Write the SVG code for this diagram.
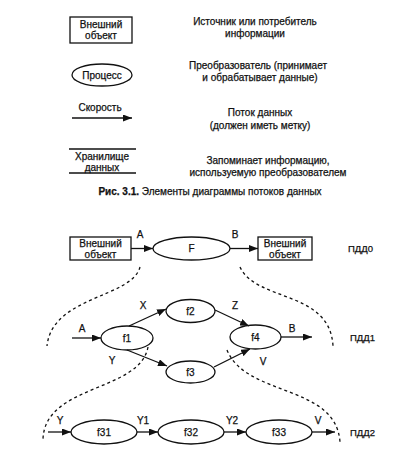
<svg xmlns="http://www.w3.org/2000/svg" width="416" height="452" viewBox="0 0 416 452">
<style>
text{font-family:"Liberation Sans",Arial,sans-serif;font-size:10px;fill:#111;stroke:#111;stroke-width:0.25;text-anchor:middle}
.lev{font-size:9.5px;text-anchor:start}
.shape{fill:#fff;stroke:#111;stroke-width:1.3}
.flow{fill:none;stroke:#111;stroke-width:1.3;marker-end:url(#ah)}
.dash{fill:none;stroke:#111;stroke-width:1.3;stroke-dasharray:3 3}
.line{stroke:#111;stroke-width:1.3}
</style>
<defs>
<marker id="ah" markerUnits="userSpaceOnUse" markerWidth="9" markerHeight="7" refX="9" refY="3.5" orient="auto">
<path d="M0,0 L9,3.5 L0,7 z" fill="#111"/>
</marker>
</defs>
<rect width="416" height="452" fill="#fff"/>

<g id="legend">
<g id="leg-ext">
<rect class="shape" x="70" y="17" width="62" height="26"/>
<text x="101" y="28">Внешний</text>
<text x="101" y="39">объект</text>
<text x="255" y="25">Источник или потребитель</text>
<text x="255" y="37">информации</text>
</g>
<g id="leg-proc">
<ellipse class="shape" cx="102" cy="75" rx="30" ry="11"/>
<text x="102" y="78.5">Процесс</text>
<text x="258" y="69">Преобразователь (принимает</text>
<text x="260" y="81">и обрабатывает данные)</text>
</g>
<g id="leg-flow">
<text x="100" y="111">Скорость</text>
<text x="260" y="116">Поток данных</text>
<text x="260" y="129">(должен иметь метку)</text>
</g>
<g id="leg-store">
<line class="line" x1="69" y1="149" x2="136" y2="149"/>
<line class="line" x1="69" y1="173" x2="136" y2="173"/>
<text x="102" y="160">Хранилище</text>
<text x="102" y="170.5">данных</text>
<text x="268" y="164">Запоминает информацию,</text>
<text x="268" y="175.5">используемую преобразователем</text>
</g>
<text x="210" y="194.5"><tspan font-weight="bold">Рис. 3.1.</tspan> Элементы диаграммы потоков данных</text>
</g>

<g id="ext1">
<rect class="shape" x="70" y="237" width="61" height="23"/>
<text x="100.5" y="246.5">Внешний</text>
<text x="100.5" y="257.5">объект</text>
</g>
<g id="F">
<ellipse class="shape" cx="191.5" cy="248.5" rx="38.5" ry="11.5"/>
<text x="191.5" y="252">F</text>
</g>
<g id="ext2">
<rect class="shape" x="258" y="237" width="54" height="23"/>
<text x="285" y="246.5">Внешний</text>
<text x="285" y="257.5">объект</text>
</g>
<g id="f1">
<ellipse class="shape" cx="127" cy="338" rx="26" ry="12"/>
<text x="127" y="341.5">f1</text>
</g>
<g id="f2">
<ellipse class="shape" cx="190.5" cy="311" rx="24.5" ry="11.5"/>
<text x="190.5" y="314.5">f2</text>
</g>
<g id="f3">
<ellipse class="shape" cx="190.5" cy="372" rx="24.5" ry="11"/>
<text x="190.5" y="375.5">f3</text>
</g>
<g id="f4">
<ellipse class="shape" cx="255.5" cy="337" rx="25.5" ry="12"/>
<text x="255.5" y="340.5">f4</text>
</g>
<g id="f31">
<ellipse class="shape" cx="104" cy="432" rx="33" ry="12"/>
<text x="104" y="435.5">f31</text>
</g>
<g id="f32">
<ellipse class="shape" cx="191" cy="432" rx="33" ry="12"/>
<text x="191" y="435.5">f32</text>
</g>
<g id="f33">
<ellipse class="shape" cx="279" cy="432" rx="33" ry="12"/>
<text x="279" y="435.5">f33</text>
</g>

<g id="connectors">
<line class="flow" x1="72" y1="118" x2="132" y2="118"/>
<line class="flow" x1="131" y1="248.5" x2="153" y2="248.5"/>
<line class="flow" x1="230" y1="248.5" x2="258" y2="248.5"/>
<line class="flow" x1="72" y1="338" x2="101" y2="338"/>
<line class="flow" x1="129" y1="326" x2="166" y2="309"/>
<line class="flow" x1="215" y1="310" x2="249" y2="326"/>
<line class="flow" x1="281" y1="337" x2="312" y2="337"/>
<line class="flow" x1="127" y1="350" x2="167" y2="366"/>
<line class="flow" x1="214" y1="367" x2="250" y2="349"/>
<line class="flow" x1="48" y1="432" x2="71" y2="432"/>
<line class="flow" x1="137" y1="432" x2="158" y2="432"/>
<line class="flow" x1="224" y1="432" x2="246" y2="432"/>
<line class="flow" x1="312" y1="432" x2="335" y2="432"/>
<path class="dash" d="M140,267 C132,298 52,296 47,346"/>
<path class="dash" d="M240,267 C256,302 330,290 333,346"/>
<path class="dash" d="M148,347 C140,392 45,384 43,439"/>
<path class="dash" d="M227,350 C246,397 336,384 340,442"/>
</g>

<g id="labels">
<text x="140" y="237.5">A</text>
<text x="235" y="237.5">B</text>
<text x="143" y="308.5">X</text>
<text x="235" y="308.5">Z</text>
<text x="82" y="331.5">A</text>
<text x="292" y="331.5">B</text>
<text x="112" y="363.5">Y</text>
<text x="263" y="364.5">V</text>
<text x="60" y="423.5">Y</text>
<text x="143" y="423.5">Y1</text>
<text x="232" y="423.5">Y2</text>
<text x="318" y="423.5">V</text>
<text class="lev" x="348" y="251.5">ПДД0</text>
<text class="lev" x="350" y="340.5">ПДД1</text>
<text class="lev" x="350" y="435.5">ПДД2</text>
</g>
</svg>
